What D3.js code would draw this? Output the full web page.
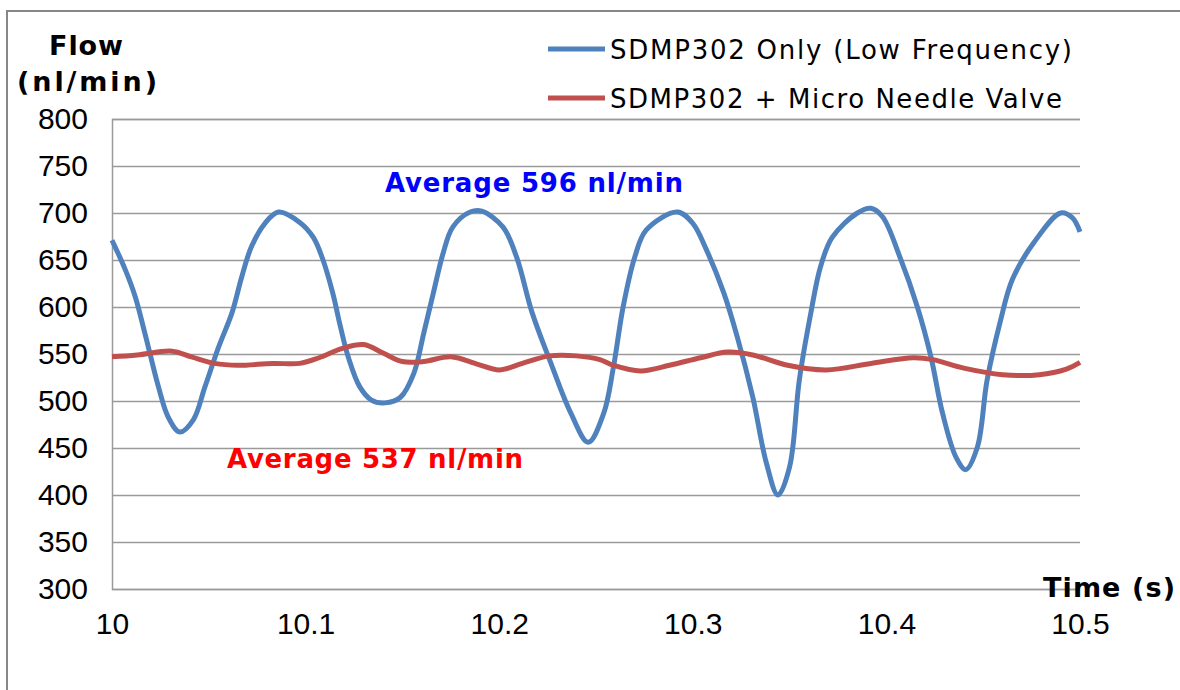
<!DOCTYPE html>
<html>
<head>
<meta charset="utf-8">
<script src="https://cdn.jsdelivr.net/npm/d3@7"></script>
<style>
    body { margin: 0; background: #fff; }
    svg { display: block; }
    .tick line { stroke: #9a9a9a; stroke-width: 1.5; }
    .tick text { font-family: "Liberation Sans", Arial, sans-serif; font-size: 30px; fill: #000; }
</style>
</head>
<body>
<svg id="chart" width="1180" height="690"></svg>
<script>
// time axis (s)
const xTicks = [10, 10.1, 10.2, 10.3, 10.4, 10.5];
const xTickLabels = ["10", "10.1", "10.2", "10.3", "10.4", "10.5"];
// flow axis (nl/min)
const yTicks = [300, 350, 400, 450, 500, 550, 600, 650, 700, 750, 800];

const seriesNames = ["SDMP302 Only (Low Frequency)", "SDMP302 + Micro Needle Valve"];
const averageLabels = ["Average 596 nl/min", "Average 537 nl/min"];

// SDMP302 only
const pumpTime = [10.000, 10.007, 10.012, 10.017, 10.024, 10.029, 10.035, 10.042, 10.048,
    10.055, 10.062, 10.067, 10.072, 10.079, 10.086, 10.097, 10.104, 10.109, 10.114,
    10.118, 10.122, 10.128, 10.134, 10.141, 10.149, 10.156, 10.161, 10.166, 10.171,
    10.176, 10.185, 10.191, 10.202, 10.209, 10.217, 10.226, 10.237, 10.246, 10.254,
    10.259, 10.264, 10.270, 10.276, 10.292, 10.300, 10.307, 10.316, 10.323, 10.331,
    10.338, 10.344, 10.350, 10.355, 10.361, 10.366, 10.372, 10.385, 10.392, 10.398,
    10.407, 10.416, 10.423, 10.429, 10.436, 10.441, 10.447, 10.452, 10.459, 10.465,
    10.476, 10.490, 10.496, 10.500];
const pumpFlow = [671, 639, 611, 572, 515, 483, 467, 480, 515,
    557, 594, 632, 664, 689, 701, 690, 674, 650, 615,
    579, 547, 515, 501, 498, 504, 530, 572, 615, 657,
    685, 701, 702, 685, 653, 594, 544, 487, 456, 487,
    536, 600, 653, 682, 701, 689, 661, 615, 568, 504,
    434, 400, 430, 522, 594, 643, 674, 700, 705, 696,
    653, 600, 547, 487, 440, 427, 451, 522, 586, 629,
    668, 700, 695, 680];

// SDMP302 + micro needle valve
const valveTime = [10.000, 10.013, 10.031, 10.041, 10.053, 10.065, 10.083, 10.097, 10.107, 10.119,
    10.130, 10.140, 10.150, 10.161, 10.175, 10.189, 10.200, 10.212, 10.226, 10.240,
    10.252, 10.259, 10.273, 10.288, 10.304, 10.318, 10.331, 10.349, 10.369, 10.392,
    10.414, 10.424, 10.440, 10.460, 10.479, 10.493, 10.500];
const valveFlow = [547, 549, 553, 547, 540, 538, 540, 540, 546, 556,
    560, 551, 542, 542, 547, 539, 533, 540, 548, 548,
    544, 538, 532, 538, 546, 552, 549, 538, 533, 540,
    546, 544, 535, 528, 528, 534, 541];

const COLORS = ["#4f81bd", "#c0504d"];
const LABEL_COLORS = ["#0000ff", "#ff0000"];
const VERDANA = "'DejaVu Sans', Verdana, sans-serif";

const svg = d3.select("#chart");
const plot = { left: 112, right: 1080, top: 119, bottom: 589 };

const x = d3.scaleLinear().domain([10, 10.5]).range([plot.left, plot.right]);
const y = d3.scaleLinear().domain([300, 800]).range([plot.bottom, plot.top]);

// outer frame (only top and left visible in the picture)
svg.append("path")
    .attr("d", "M7 690 L7 11 L1180 11")
    .attr("fill", "none")
    .attr("stroke", "#878787")
    .attr("stroke-width", 2);

// y axis with grid
const yAxis = svg.append("g")
    .attr("transform", `translate(${plot.left},0)`)
    .call(d3.axisLeft(y)
        .tickValues(yTicks)
        .tickSize(-(plot.right - plot.left))
        .tickPadding(24));
yAxis.select(".domain")
    .attr("stroke", "#9a9a9a")
    .attr("stroke-width", 1.5);

// x axis labels only
const xAxis = svg.append("g")
    .attr("transform", `translate(0,${plot.bottom})`)
    .call(d3.axisBottom(x)
        .tickValues(xTicks)
        .tickSize(0)
        .tickFormat((d, i) => xTickLabels[i]));
xAxis.select(".domain").remove();
xAxis.selectAll("text").attr("y", 45).attr("dy", 0);

// lines
const line = d3.line()
    .x(d => x(d[0]))
    .y(d => y(d[1]))
    .curve(d3.curveCatmullRom.alpha(0.5));

const series = [
    d3.zip(pumpTime, pumpFlow),
    d3.zip(valveTime, valveFlow)
];

svg.append("g")
    .selectAll("path")
    .data(series)
    .join("path")
    .attr("d", line)
    .attr("fill", "none")
    .attr("stroke", (d, i) => COLORS[i])
    .attr("stroke-width", 5)
    .attr("stroke-linejoin", "round");

// DejaVu is a bit narrower than Verdana, stretch spacing to the original widths
const label = (xPos, yPos, txt, size, width, anchor) => svg.append("text")
    .attr("x", xPos).attr("y", yPos)
    .attr("font-family", VERDANA)
    .attr("font-weight", "bold")
    .attr("font-size", size)
    .attr("text-anchor", anchor || "start")
    .attr("textLength", width)
    .attr("lengthAdjust", "spacing")
    .text(txt);

// axis titles
label(86, 55, "Flow", 27, 74, "middle");
label(87, 91, "(nl/min)", 27, 140, "middle");
label(1043, 597, "Time (s)", 27, 132);

// average notes
label(385, 192, averageLabels[0], 26, 298).attr("fill", LABEL_COLORS[0]);
label(227, 468, averageLabels[1], 26, 296).attr("fill", LABEL_COLORS[1]);

// legend
const legendWidths = [462, 452];
const legend = svg.append("g")
    .selectAll("g")
    .data(seriesNames)
    .join("g")
    .attr("transform", (d, i) => `translate(548,${49 + i * 49})`);
legend.append("line")
    .attr("x1", 0).attr("x2", 57)
    .attr("stroke", (d, i) => COLORS[i])
    .attr("stroke-width", 5);
legend.append("text")
    .attr("x", 62).attr("y", 10)
    .attr("font-family", VERDANA)
    .attr("font-size", 26)
    .attr("textLength", (d, i) => legendWidths[i])
    .attr("lengthAdjust", "spacing")
    .text(d => d);
</script>
</body>
</html>
